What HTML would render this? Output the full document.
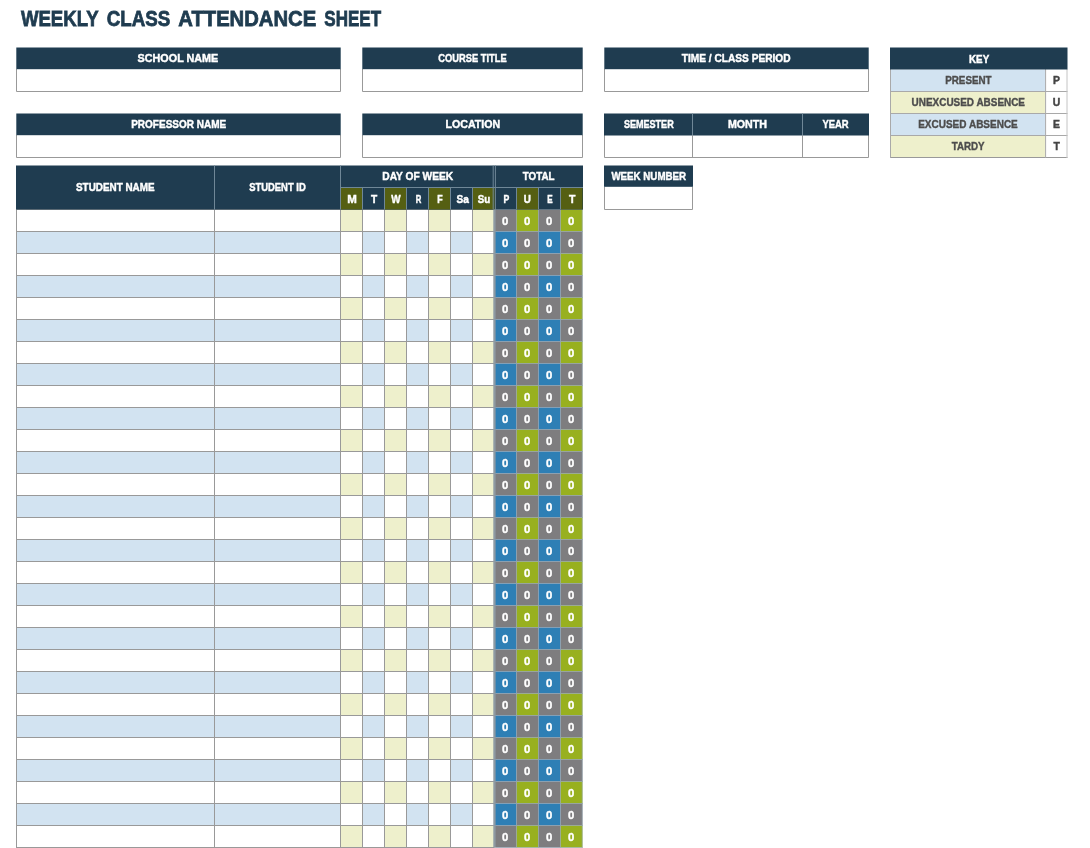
<!DOCTYPE html>
<html lang="en">
<head>
<meta charset="utf-8">
<title>Weekly Class Attendance Sheet</title>
<style>
html,body{margin:0;padding:0;background:#fff;}
body{width:1090px;height:848px;overflow:hidden;}
svg{display:block;}
text{font-family:"Liberation Sans",Arial,Helvetica,sans-serif;font-weight:bold;}
</style>
</head>
<body>
<svg width="1090" height="848" viewBox="0 0 1090 848" shape-rendering="auto">
<rect x="0" y="0" width="1090" height="848" fill="#ffffff"/>
<g id="title">
<text x="20.90" y="26.30" font-size="22" fill="#1f3c50" stroke="#1f3c50" stroke-width="0.8" textLength="77.80" lengthAdjust="spacingAndGlyphs">WEEKLY</text>
<text x="106.80" y="26.30" font-size="22" fill="#1f3c50" stroke="#1f3c50" stroke-width="0.8" textLength="63.50" lengthAdjust="spacingAndGlyphs">CLASS</text>
<text x="178.30" y="26.30" font-size="22" fill="#1f3c50" stroke="#1f3c50" stroke-width="0.8" textLength="137.89" lengthAdjust="spacingAndGlyphs">ATTENDANCE</text>
<text x="324.30" y="26.30" font-size="22" fill="#1f3c50" stroke="#1f3c50" stroke-width="0.8" textLength="56.80" lengthAdjust="spacingAndGlyphs">SHEET</text>
</g>
<g id="school-name">
<rect x="16.5" y="69" width="324.0" height="22.5" fill="#fff"/>
<path d="M16.5 69V91.5H340.5V69" fill="none" stroke="#999999" stroke-width="1"/>
<rect x="16.3" y="47.5" width="324.4" height="21.7" fill="#1f3c50"/>
<text x="137.60" y="62.40" font-size="11.5" fill="#fff" stroke="#fff" stroke-width="0.45" textLength="80.70" lengthAdjust="spacingAndGlyphs">SCHOOL NAME</text>
</g>
<g id="professor-name">
<rect x="16.5" y="135" width="324.0" height="22.5" fill="#fff"/>
<path d="M16.5 135V157.5H340.5V135" fill="none" stroke="#999999" stroke-width="1"/>
<rect x="16.3" y="113.5" width="324.4" height="21.7" fill="#1f3c50"/>
<text x="131.20" y="128.40" font-size="11.5" fill="#fff" stroke="#fff" stroke-width="0.45" textLength="95.00" lengthAdjust="spacingAndGlyphs">PROFESSOR NAME</text>
</g>
<g id="course-title">
<rect x="362.5" y="69" width="220.0" height="22.5" fill="#fff"/>
<path d="M362.5 69V91.5H582.5V69" fill="none" stroke="#999999" stroke-width="1"/>
<rect x="362.3" y="47.5" width="220.4" height="21.7" fill="#1f3c50"/>
<text x="438.30" y="62.40" font-size="11.5" fill="#fff" stroke="#fff" stroke-width="0.45" textLength="68.30" lengthAdjust="spacingAndGlyphs">COURSE TITLE</text>
</g>
<g id="location">
<rect x="362.5" y="135" width="220.0" height="22.5" fill="#fff"/>
<path d="M362.5 135V157.5H582.5V135" fill="none" stroke="#999999" stroke-width="1"/>
<rect x="362.3" y="113.5" width="220.4" height="21.7" fill="#1f3c50"/>
<text x="445.50" y="128.40" font-size="11.5" fill="#fff" stroke="#fff" stroke-width="0.45" textLength="54.70" lengthAdjust="spacingAndGlyphs">LOCATION</text>
</g>
<g id="time-class-period">
<rect x="604.5" y="69" width="264.0" height="22.5" fill="#fff"/>
<path d="M604.5 69V91.5H868.5V69" fill="none" stroke="#999999" stroke-width="1"/>
<rect x="604.3" y="47.5" width="264.4" height="21.7" fill="#1f3c50"/>
<text x="681.70" y="62.40" font-size="11.5" fill="#fff" stroke="#fff" stroke-width="0.45" textLength="108.90" lengthAdjust="spacingAndGlyphs">TIME / CLASS PERIOD</text>
</g>
<g id="semester-month-year">
<rect x="604.5" y="135" width="264.0" height="22.5" fill="#fff"/>
<path d="M604.5 135V157.5H868.5V135" fill="none" stroke="#999999" stroke-width="1"/>
<rect x="604" y="113.5" width="265" height="22.0" fill="#1f3c50"/>
<line x1="692.5" y1="113.5" x2="692.5" y2="135.5" stroke="#6f8797" stroke-width="1"/>
<line x1="692.5" y1="135.5" x2="692.5" y2="157.5" stroke="#999999" stroke-width="1"/>
<line x1="802.5" y1="113.5" x2="802.5" y2="135.5" stroke="#6f8797" stroke-width="1"/>
<line x1="802.5" y1="135.5" x2="802.5" y2="157.5" stroke="#999999" stroke-width="1"/>
<text x="623.90" y="128.40" font-size="11.5" fill="#fff" stroke="#fff" stroke-width="0.45" textLength="49.80" lengthAdjust="spacingAndGlyphs">SEMESTER</text>
<text x="727.90" y="128.40" font-size="11.5" fill="#fff" stroke="#fff" stroke-width="0.45" textLength="39.10" lengthAdjust="spacingAndGlyphs">MONTH</text>
<text x="822.40" y="128.40" font-size="11.5" fill="#fff" stroke="#fff" stroke-width="0.45" textLength="26.20" lengthAdjust="spacingAndGlyphs">YEAR</text>
</g>
<g id="week-number">
<rect x="604.5" y="187" width="88.0" height="22.5" fill="#fff"/>
<path d="M604.5 187V209.5H692.5V187" fill="none" stroke="#999999" stroke-width="1"/>
<rect x="604" y="165.5" width="89" height="21.3" fill="#1f3c50"/>
<text x="611.40" y="180.40" font-size="11.5" fill="#fff" stroke="#fff" stroke-width="0.45" textLength="74.70" lengthAdjust="spacingAndGlyphs">WEEK NUMBER</text>
</g>
<g id="key">
<rect x="890.5" y="69.5" width="155.1" height="22.0" fill="#d2e3f1"/>
<rect x="1045.6" y="69.5" width="21.4" height="22.0" fill="#fff"/>
<rect x="890.5" y="91.5" width="155.1" height="22.0" fill="#eef0cc"/>
<rect x="1045.6" y="91.5" width="21.4" height="22.0" fill="#fff"/>
<rect x="890.5" y="113.5" width="155.1" height="22.0" fill="#d2e3f1"/>
<rect x="1045.6" y="113.5" width="21.4" height="22.0" fill="#fff"/>
<rect x="890.5" y="135.5" width="155.1" height="22.0" fill="#eef0cc"/>
<rect x="1045.6" y="135.5" width="21.4" height="22.0" fill="#fff"/>
<line x1="890.0" y1="91.5" x2="1067.5" y2="91.5" stroke="#a9a9a9" stroke-width="1"/>
<line x1="890.0" y1="113.5" x2="1067.5" y2="113.5" stroke="#a9a9a9" stroke-width="1"/>
<line x1="890.0" y1="135.5" x2="1067.5" y2="135.5" stroke="#a9a9a9" stroke-width="1"/>
<line x1="890.0" y1="157.5" x2="1067.5" y2="157.5" stroke="#999999" stroke-width="1"/>
<line x1="890.5" y1="69" x2="890.5" y2="158" stroke="#a9a9a9" stroke-width="1"/>
<line x1="1045.6" y1="69" x2="1045.6" y2="158" stroke="#a9a9a9" stroke-width="1"/>
<line x1="1067.0" y1="69" x2="1067.0" y2="158" stroke="#c4c4c4" stroke-width="1"/>
<rect x="890.0" y="47.5" width="177.5" height="22.0" fill="#1f3c50"/>
<text x="969.00" y="62.60" font-size="11.5" fill="#fff" stroke="#fff" stroke-width="0.45" textLength="20.20" lengthAdjust="spacingAndGlyphs">KEY</text>
<text x="945.20" y="84.00" font-size="10" fill="#4d4d4d" stroke="#4d4d4d" stroke-width="0.35" textLength="46.40" lengthAdjust="spacingAndGlyphs">PRESENT</text>
<text x="1053.13" y="84.00" font-size="10" fill="#444" stroke="#444" stroke-width="0.4" textLength="6.94" lengthAdjust="spacingAndGlyphs">P</text>
<text x="911.60" y="106.00" font-size="10" fill="#4d4d4d" stroke="#4d4d4d" stroke-width="0.35" textLength="113.40" lengthAdjust="spacingAndGlyphs">UNEXCUSED ABSENCE</text>
<text x="1052.85" y="106.00" font-size="10" fill="#444" stroke="#444" stroke-width="0.4" textLength="7.51" lengthAdjust="spacingAndGlyphs">U</text>
<text x="918.20" y="128.00" font-size="10" fill="#4d4d4d" stroke="#4d4d4d" stroke-width="0.35" textLength="99.60" lengthAdjust="spacingAndGlyphs">EXCUSED ABSENCE</text>
<text x="1053.13" y="128.00" font-size="10" fill="#444" stroke="#444" stroke-width="0.4" textLength="6.94" lengthAdjust="spacingAndGlyphs">E</text>
<text x="951.70" y="150.00" font-size="10" fill="#4d4d4d" stroke="#4d4d4d" stroke-width="0.35" textLength="32.90" lengthAdjust="spacingAndGlyphs">TARDY</text>
<text x="1053.42" y="150.00" font-size="10" fill="#444" stroke="#444" stroke-width="0.4" textLength="6.35" lengthAdjust="spacingAndGlyphs">T</text>
</g>
<g id="attendance-table">
<rect x="16.5" y="209.5" width="324.0" height="22.0" fill="#fff"/>
<rect x="340.5" y="209.5" width="22.0" height="22.0" fill="#eef0cc"/>
<rect x="362.5" y="209.5" width="22.0" height="22.0" fill="#fff"/>
<rect x="384.5" y="209.5" width="22.0" height="22.0" fill="#eef0cc"/>
<rect x="406.5" y="209.5" width="22.0" height="22.0" fill="#fff"/>
<rect x="428.5" y="209.5" width="22.0" height="22.0" fill="#eef0cc"/>
<rect x="450.5" y="209.5" width="22.0" height="22.0" fill="#fff"/>
<rect x="472.5" y="209.5" width="22.0" height="22.0" fill="#eef0cc"/>
<rect x="494.5" y="209.5" width="22.0" height="22.0" fill="#7e7d7f"/>
<rect x="516.5" y="209.5" width="22.0" height="22.0" fill="#98b01f"/>
<rect x="538.5" y="209.5" width="22.0" height="22.0" fill="#7e7d7f"/>
<rect x="560.5" y="209.5" width="22.0" height="22.0" fill="#98b01f"/>
<rect x="16.5" y="231.5" width="324.0" height="22.0" fill="#d2e3f1"/>
<rect x="340.5" y="231.5" width="22.0" height="22.0" fill="#fff"/>
<rect x="362.5" y="231.5" width="22.0" height="22.0" fill="#d2e3f1"/>
<rect x="384.5" y="231.5" width="22.0" height="22.0" fill="#fff"/>
<rect x="406.5" y="231.5" width="22.0" height="22.0" fill="#d2e3f1"/>
<rect x="428.5" y="231.5" width="22.0" height="22.0" fill="#fff"/>
<rect x="450.5" y="231.5" width="22.0" height="22.0" fill="#d2e3f1"/>
<rect x="472.5" y="231.5" width="22.0" height="22.0" fill="#fff"/>
<rect x="494.5" y="231.5" width="22.0" height="22.0" fill="#2e7fb5"/>
<rect x="516.5" y="231.5" width="22.0" height="22.0" fill="#7e7d7f"/>
<rect x="538.5" y="231.5" width="22.0" height="22.0" fill="#2e7fb5"/>
<rect x="560.5" y="231.5" width="22.0" height="22.0" fill="#7e7d7f"/>
<rect x="16.5" y="253.5" width="324.0" height="22.0" fill="#fff"/>
<rect x="340.5" y="253.5" width="22.0" height="22.0" fill="#eef0cc"/>
<rect x="362.5" y="253.5" width="22.0" height="22.0" fill="#fff"/>
<rect x="384.5" y="253.5" width="22.0" height="22.0" fill="#eef0cc"/>
<rect x="406.5" y="253.5" width="22.0" height="22.0" fill="#fff"/>
<rect x="428.5" y="253.5" width="22.0" height="22.0" fill="#eef0cc"/>
<rect x="450.5" y="253.5" width="22.0" height="22.0" fill="#fff"/>
<rect x="472.5" y="253.5" width="22.0" height="22.0" fill="#eef0cc"/>
<rect x="494.5" y="253.5" width="22.0" height="22.0" fill="#7e7d7f"/>
<rect x="516.5" y="253.5" width="22.0" height="22.0" fill="#98b01f"/>
<rect x="538.5" y="253.5" width="22.0" height="22.0" fill="#7e7d7f"/>
<rect x="560.5" y="253.5" width="22.0" height="22.0" fill="#98b01f"/>
<rect x="16.5" y="275.5" width="324.0" height="22.0" fill="#d2e3f1"/>
<rect x="340.5" y="275.5" width="22.0" height="22.0" fill="#fff"/>
<rect x="362.5" y="275.5" width="22.0" height="22.0" fill="#d2e3f1"/>
<rect x="384.5" y="275.5" width="22.0" height="22.0" fill="#fff"/>
<rect x="406.5" y="275.5" width="22.0" height="22.0" fill="#d2e3f1"/>
<rect x="428.5" y="275.5" width="22.0" height="22.0" fill="#fff"/>
<rect x="450.5" y="275.5" width="22.0" height="22.0" fill="#d2e3f1"/>
<rect x="472.5" y="275.5" width="22.0" height="22.0" fill="#fff"/>
<rect x="494.5" y="275.5" width="22.0" height="22.0" fill="#2e7fb5"/>
<rect x="516.5" y="275.5" width="22.0" height="22.0" fill="#7e7d7f"/>
<rect x="538.5" y="275.5" width="22.0" height="22.0" fill="#2e7fb5"/>
<rect x="560.5" y="275.5" width="22.0" height="22.0" fill="#7e7d7f"/>
<rect x="16.5" y="297.5" width="324.0" height="22.0" fill="#fff"/>
<rect x="340.5" y="297.5" width="22.0" height="22.0" fill="#eef0cc"/>
<rect x="362.5" y="297.5" width="22.0" height="22.0" fill="#fff"/>
<rect x="384.5" y="297.5" width="22.0" height="22.0" fill="#eef0cc"/>
<rect x="406.5" y="297.5" width="22.0" height="22.0" fill="#fff"/>
<rect x="428.5" y="297.5" width="22.0" height="22.0" fill="#eef0cc"/>
<rect x="450.5" y="297.5" width="22.0" height="22.0" fill="#fff"/>
<rect x="472.5" y="297.5" width="22.0" height="22.0" fill="#eef0cc"/>
<rect x="494.5" y="297.5" width="22.0" height="22.0" fill="#7e7d7f"/>
<rect x="516.5" y="297.5" width="22.0" height="22.0" fill="#98b01f"/>
<rect x="538.5" y="297.5" width="22.0" height="22.0" fill="#7e7d7f"/>
<rect x="560.5" y="297.5" width="22.0" height="22.0" fill="#98b01f"/>
<rect x="16.5" y="319.5" width="324.0" height="22.0" fill="#d2e3f1"/>
<rect x="340.5" y="319.5" width="22.0" height="22.0" fill="#fff"/>
<rect x="362.5" y="319.5" width="22.0" height="22.0" fill="#d2e3f1"/>
<rect x="384.5" y="319.5" width="22.0" height="22.0" fill="#fff"/>
<rect x="406.5" y="319.5" width="22.0" height="22.0" fill="#d2e3f1"/>
<rect x="428.5" y="319.5" width="22.0" height="22.0" fill="#fff"/>
<rect x="450.5" y="319.5" width="22.0" height="22.0" fill="#d2e3f1"/>
<rect x="472.5" y="319.5" width="22.0" height="22.0" fill="#fff"/>
<rect x="494.5" y="319.5" width="22.0" height="22.0" fill="#2e7fb5"/>
<rect x="516.5" y="319.5" width="22.0" height="22.0" fill="#7e7d7f"/>
<rect x="538.5" y="319.5" width="22.0" height="22.0" fill="#2e7fb5"/>
<rect x="560.5" y="319.5" width="22.0" height="22.0" fill="#7e7d7f"/>
<rect x="16.5" y="341.5" width="324.0" height="22.0" fill="#fff"/>
<rect x="340.5" y="341.5" width="22.0" height="22.0" fill="#eef0cc"/>
<rect x="362.5" y="341.5" width="22.0" height="22.0" fill="#fff"/>
<rect x="384.5" y="341.5" width="22.0" height="22.0" fill="#eef0cc"/>
<rect x="406.5" y="341.5" width="22.0" height="22.0" fill="#fff"/>
<rect x="428.5" y="341.5" width="22.0" height="22.0" fill="#eef0cc"/>
<rect x="450.5" y="341.5" width="22.0" height="22.0" fill="#fff"/>
<rect x="472.5" y="341.5" width="22.0" height="22.0" fill="#eef0cc"/>
<rect x="494.5" y="341.5" width="22.0" height="22.0" fill="#7e7d7f"/>
<rect x="516.5" y="341.5" width="22.0" height="22.0" fill="#98b01f"/>
<rect x="538.5" y="341.5" width="22.0" height="22.0" fill="#7e7d7f"/>
<rect x="560.5" y="341.5" width="22.0" height="22.0" fill="#98b01f"/>
<rect x="16.5" y="363.5" width="324.0" height="22.0" fill="#d2e3f1"/>
<rect x="340.5" y="363.5" width="22.0" height="22.0" fill="#fff"/>
<rect x="362.5" y="363.5" width="22.0" height="22.0" fill="#d2e3f1"/>
<rect x="384.5" y="363.5" width="22.0" height="22.0" fill="#fff"/>
<rect x="406.5" y="363.5" width="22.0" height="22.0" fill="#d2e3f1"/>
<rect x="428.5" y="363.5" width="22.0" height="22.0" fill="#fff"/>
<rect x="450.5" y="363.5" width="22.0" height="22.0" fill="#d2e3f1"/>
<rect x="472.5" y="363.5" width="22.0" height="22.0" fill="#fff"/>
<rect x="494.5" y="363.5" width="22.0" height="22.0" fill="#2e7fb5"/>
<rect x="516.5" y="363.5" width="22.0" height="22.0" fill="#7e7d7f"/>
<rect x="538.5" y="363.5" width="22.0" height="22.0" fill="#2e7fb5"/>
<rect x="560.5" y="363.5" width="22.0" height="22.0" fill="#7e7d7f"/>
<rect x="16.5" y="385.5" width="324.0" height="22.0" fill="#fff"/>
<rect x="340.5" y="385.5" width="22.0" height="22.0" fill="#eef0cc"/>
<rect x="362.5" y="385.5" width="22.0" height="22.0" fill="#fff"/>
<rect x="384.5" y="385.5" width="22.0" height="22.0" fill="#eef0cc"/>
<rect x="406.5" y="385.5" width="22.0" height="22.0" fill="#fff"/>
<rect x="428.5" y="385.5" width="22.0" height="22.0" fill="#eef0cc"/>
<rect x="450.5" y="385.5" width="22.0" height="22.0" fill="#fff"/>
<rect x="472.5" y="385.5" width="22.0" height="22.0" fill="#eef0cc"/>
<rect x="494.5" y="385.5" width="22.0" height="22.0" fill="#7e7d7f"/>
<rect x="516.5" y="385.5" width="22.0" height="22.0" fill="#98b01f"/>
<rect x="538.5" y="385.5" width="22.0" height="22.0" fill="#7e7d7f"/>
<rect x="560.5" y="385.5" width="22.0" height="22.0" fill="#98b01f"/>
<rect x="16.5" y="407.5" width="324.0" height="22.0" fill="#d2e3f1"/>
<rect x="340.5" y="407.5" width="22.0" height="22.0" fill="#fff"/>
<rect x="362.5" y="407.5" width="22.0" height="22.0" fill="#d2e3f1"/>
<rect x="384.5" y="407.5" width="22.0" height="22.0" fill="#fff"/>
<rect x="406.5" y="407.5" width="22.0" height="22.0" fill="#d2e3f1"/>
<rect x="428.5" y="407.5" width="22.0" height="22.0" fill="#fff"/>
<rect x="450.5" y="407.5" width="22.0" height="22.0" fill="#d2e3f1"/>
<rect x="472.5" y="407.5" width="22.0" height="22.0" fill="#fff"/>
<rect x="494.5" y="407.5" width="22.0" height="22.0" fill="#2e7fb5"/>
<rect x="516.5" y="407.5" width="22.0" height="22.0" fill="#7e7d7f"/>
<rect x="538.5" y="407.5" width="22.0" height="22.0" fill="#2e7fb5"/>
<rect x="560.5" y="407.5" width="22.0" height="22.0" fill="#7e7d7f"/>
<rect x="16.5" y="429.5" width="324.0" height="22.0" fill="#fff"/>
<rect x="340.5" y="429.5" width="22.0" height="22.0" fill="#eef0cc"/>
<rect x="362.5" y="429.5" width="22.0" height="22.0" fill="#fff"/>
<rect x="384.5" y="429.5" width="22.0" height="22.0" fill="#eef0cc"/>
<rect x="406.5" y="429.5" width="22.0" height="22.0" fill="#fff"/>
<rect x="428.5" y="429.5" width="22.0" height="22.0" fill="#eef0cc"/>
<rect x="450.5" y="429.5" width="22.0" height="22.0" fill="#fff"/>
<rect x="472.5" y="429.5" width="22.0" height="22.0" fill="#eef0cc"/>
<rect x="494.5" y="429.5" width="22.0" height="22.0" fill="#7e7d7f"/>
<rect x="516.5" y="429.5" width="22.0" height="22.0" fill="#98b01f"/>
<rect x="538.5" y="429.5" width="22.0" height="22.0" fill="#7e7d7f"/>
<rect x="560.5" y="429.5" width="22.0" height="22.0" fill="#98b01f"/>
<rect x="16.5" y="451.5" width="324.0" height="22.0" fill="#d2e3f1"/>
<rect x="340.5" y="451.5" width="22.0" height="22.0" fill="#fff"/>
<rect x="362.5" y="451.5" width="22.0" height="22.0" fill="#d2e3f1"/>
<rect x="384.5" y="451.5" width="22.0" height="22.0" fill="#fff"/>
<rect x="406.5" y="451.5" width="22.0" height="22.0" fill="#d2e3f1"/>
<rect x="428.5" y="451.5" width="22.0" height="22.0" fill="#fff"/>
<rect x="450.5" y="451.5" width="22.0" height="22.0" fill="#d2e3f1"/>
<rect x="472.5" y="451.5" width="22.0" height="22.0" fill="#fff"/>
<rect x="494.5" y="451.5" width="22.0" height="22.0" fill="#2e7fb5"/>
<rect x="516.5" y="451.5" width="22.0" height="22.0" fill="#7e7d7f"/>
<rect x="538.5" y="451.5" width="22.0" height="22.0" fill="#2e7fb5"/>
<rect x="560.5" y="451.5" width="22.0" height="22.0" fill="#7e7d7f"/>
<rect x="16.5" y="473.5" width="324.0" height="22.0" fill="#fff"/>
<rect x="340.5" y="473.5" width="22.0" height="22.0" fill="#eef0cc"/>
<rect x="362.5" y="473.5" width="22.0" height="22.0" fill="#fff"/>
<rect x="384.5" y="473.5" width="22.0" height="22.0" fill="#eef0cc"/>
<rect x="406.5" y="473.5" width="22.0" height="22.0" fill="#fff"/>
<rect x="428.5" y="473.5" width="22.0" height="22.0" fill="#eef0cc"/>
<rect x="450.5" y="473.5" width="22.0" height="22.0" fill="#fff"/>
<rect x="472.5" y="473.5" width="22.0" height="22.0" fill="#eef0cc"/>
<rect x="494.5" y="473.5" width="22.0" height="22.0" fill="#7e7d7f"/>
<rect x="516.5" y="473.5" width="22.0" height="22.0" fill="#98b01f"/>
<rect x="538.5" y="473.5" width="22.0" height="22.0" fill="#7e7d7f"/>
<rect x="560.5" y="473.5" width="22.0" height="22.0" fill="#98b01f"/>
<rect x="16.5" y="495.5" width="324.0" height="22.0" fill="#d2e3f1"/>
<rect x="340.5" y="495.5" width="22.0" height="22.0" fill="#fff"/>
<rect x="362.5" y="495.5" width="22.0" height="22.0" fill="#d2e3f1"/>
<rect x="384.5" y="495.5" width="22.0" height="22.0" fill="#fff"/>
<rect x="406.5" y="495.5" width="22.0" height="22.0" fill="#d2e3f1"/>
<rect x="428.5" y="495.5" width="22.0" height="22.0" fill="#fff"/>
<rect x="450.5" y="495.5" width="22.0" height="22.0" fill="#d2e3f1"/>
<rect x="472.5" y="495.5" width="22.0" height="22.0" fill="#fff"/>
<rect x="494.5" y="495.5" width="22.0" height="22.0" fill="#2e7fb5"/>
<rect x="516.5" y="495.5" width="22.0" height="22.0" fill="#7e7d7f"/>
<rect x="538.5" y="495.5" width="22.0" height="22.0" fill="#2e7fb5"/>
<rect x="560.5" y="495.5" width="22.0" height="22.0" fill="#7e7d7f"/>
<rect x="16.5" y="517.5" width="324.0" height="22.0" fill="#fff"/>
<rect x="340.5" y="517.5" width="22.0" height="22.0" fill="#eef0cc"/>
<rect x="362.5" y="517.5" width="22.0" height="22.0" fill="#fff"/>
<rect x="384.5" y="517.5" width="22.0" height="22.0" fill="#eef0cc"/>
<rect x="406.5" y="517.5" width="22.0" height="22.0" fill="#fff"/>
<rect x="428.5" y="517.5" width="22.0" height="22.0" fill="#eef0cc"/>
<rect x="450.5" y="517.5" width="22.0" height="22.0" fill="#fff"/>
<rect x="472.5" y="517.5" width="22.0" height="22.0" fill="#eef0cc"/>
<rect x="494.5" y="517.5" width="22.0" height="22.0" fill="#7e7d7f"/>
<rect x="516.5" y="517.5" width="22.0" height="22.0" fill="#98b01f"/>
<rect x="538.5" y="517.5" width="22.0" height="22.0" fill="#7e7d7f"/>
<rect x="560.5" y="517.5" width="22.0" height="22.0" fill="#98b01f"/>
<rect x="16.5" y="539.5" width="324.0" height="22.0" fill="#d2e3f1"/>
<rect x="340.5" y="539.5" width="22.0" height="22.0" fill="#fff"/>
<rect x="362.5" y="539.5" width="22.0" height="22.0" fill="#d2e3f1"/>
<rect x="384.5" y="539.5" width="22.0" height="22.0" fill="#fff"/>
<rect x="406.5" y="539.5" width="22.0" height="22.0" fill="#d2e3f1"/>
<rect x="428.5" y="539.5" width="22.0" height="22.0" fill="#fff"/>
<rect x="450.5" y="539.5" width="22.0" height="22.0" fill="#d2e3f1"/>
<rect x="472.5" y="539.5" width="22.0" height="22.0" fill="#fff"/>
<rect x="494.5" y="539.5" width="22.0" height="22.0" fill="#2e7fb5"/>
<rect x="516.5" y="539.5" width="22.0" height="22.0" fill="#7e7d7f"/>
<rect x="538.5" y="539.5" width="22.0" height="22.0" fill="#2e7fb5"/>
<rect x="560.5" y="539.5" width="22.0" height="22.0" fill="#7e7d7f"/>
<rect x="16.5" y="561.5" width="324.0" height="22.0" fill="#fff"/>
<rect x="340.5" y="561.5" width="22.0" height="22.0" fill="#eef0cc"/>
<rect x="362.5" y="561.5" width="22.0" height="22.0" fill="#fff"/>
<rect x="384.5" y="561.5" width="22.0" height="22.0" fill="#eef0cc"/>
<rect x="406.5" y="561.5" width="22.0" height="22.0" fill="#fff"/>
<rect x="428.5" y="561.5" width="22.0" height="22.0" fill="#eef0cc"/>
<rect x="450.5" y="561.5" width="22.0" height="22.0" fill="#fff"/>
<rect x="472.5" y="561.5" width="22.0" height="22.0" fill="#eef0cc"/>
<rect x="494.5" y="561.5" width="22.0" height="22.0" fill="#7e7d7f"/>
<rect x="516.5" y="561.5" width="22.0" height="22.0" fill="#98b01f"/>
<rect x="538.5" y="561.5" width="22.0" height="22.0" fill="#7e7d7f"/>
<rect x="560.5" y="561.5" width="22.0" height="22.0" fill="#98b01f"/>
<rect x="16.5" y="583.5" width="324.0" height="22.0" fill="#d2e3f1"/>
<rect x="340.5" y="583.5" width="22.0" height="22.0" fill="#fff"/>
<rect x="362.5" y="583.5" width="22.0" height="22.0" fill="#d2e3f1"/>
<rect x="384.5" y="583.5" width="22.0" height="22.0" fill="#fff"/>
<rect x="406.5" y="583.5" width="22.0" height="22.0" fill="#d2e3f1"/>
<rect x="428.5" y="583.5" width="22.0" height="22.0" fill="#fff"/>
<rect x="450.5" y="583.5" width="22.0" height="22.0" fill="#d2e3f1"/>
<rect x="472.5" y="583.5" width="22.0" height="22.0" fill="#fff"/>
<rect x="494.5" y="583.5" width="22.0" height="22.0" fill="#2e7fb5"/>
<rect x="516.5" y="583.5" width="22.0" height="22.0" fill="#7e7d7f"/>
<rect x="538.5" y="583.5" width="22.0" height="22.0" fill="#2e7fb5"/>
<rect x="560.5" y="583.5" width="22.0" height="22.0" fill="#7e7d7f"/>
<rect x="16.5" y="605.5" width="324.0" height="22.0" fill="#fff"/>
<rect x="340.5" y="605.5" width="22.0" height="22.0" fill="#eef0cc"/>
<rect x="362.5" y="605.5" width="22.0" height="22.0" fill="#fff"/>
<rect x="384.5" y="605.5" width="22.0" height="22.0" fill="#eef0cc"/>
<rect x="406.5" y="605.5" width="22.0" height="22.0" fill="#fff"/>
<rect x="428.5" y="605.5" width="22.0" height="22.0" fill="#eef0cc"/>
<rect x="450.5" y="605.5" width="22.0" height="22.0" fill="#fff"/>
<rect x="472.5" y="605.5" width="22.0" height="22.0" fill="#eef0cc"/>
<rect x="494.5" y="605.5" width="22.0" height="22.0" fill="#7e7d7f"/>
<rect x="516.5" y="605.5" width="22.0" height="22.0" fill="#98b01f"/>
<rect x="538.5" y="605.5" width="22.0" height="22.0" fill="#7e7d7f"/>
<rect x="560.5" y="605.5" width="22.0" height="22.0" fill="#98b01f"/>
<rect x="16.5" y="627.5" width="324.0" height="22.0" fill="#d2e3f1"/>
<rect x="340.5" y="627.5" width="22.0" height="22.0" fill="#fff"/>
<rect x="362.5" y="627.5" width="22.0" height="22.0" fill="#d2e3f1"/>
<rect x="384.5" y="627.5" width="22.0" height="22.0" fill="#fff"/>
<rect x="406.5" y="627.5" width="22.0" height="22.0" fill="#d2e3f1"/>
<rect x="428.5" y="627.5" width="22.0" height="22.0" fill="#fff"/>
<rect x="450.5" y="627.5" width="22.0" height="22.0" fill="#d2e3f1"/>
<rect x="472.5" y="627.5" width="22.0" height="22.0" fill="#fff"/>
<rect x="494.5" y="627.5" width="22.0" height="22.0" fill="#2e7fb5"/>
<rect x="516.5" y="627.5" width="22.0" height="22.0" fill="#7e7d7f"/>
<rect x="538.5" y="627.5" width="22.0" height="22.0" fill="#2e7fb5"/>
<rect x="560.5" y="627.5" width="22.0" height="22.0" fill="#7e7d7f"/>
<rect x="16.5" y="649.5" width="324.0" height="22.0" fill="#fff"/>
<rect x="340.5" y="649.5" width="22.0" height="22.0" fill="#eef0cc"/>
<rect x="362.5" y="649.5" width="22.0" height="22.0" fill="#fff"/>
<rect x="384.5" y="649.5" width="22.0" height="22.0" fill="#eef0cc"/>
<rect x="406.5" y="649.5" width="22.0" height="22.0" fill="#fff"/>
<rect x="428.5" y="649.5" width="22.0" height="22.0" fill="#eef0cc"/>
<rect x="450.5" y="649.5" width="22.0" height="22.0" fill="#fff"/>
<rect x="472.5" y="649.5" width="22.0" height="22.0" fill="#eef0cc"/>
<rect x="494.5" y="649.5" width="22.0" height="22.0" fill="#7e7d7f"/>
<rect x="516.5" y="649.5" width="22.0" height="22.0" fill="#98b01f"/>
<rect x="538.5" y="649.5" width="22.0" height="22.0" fill="#7e7d7f"/>
<rect x="560.5" y="649.5" width="22.0" height="22.0" fill="#98b01f"/>
<rect x="16.5" y="671.5" width="324.0" height="22.0" fill="#d2e3f1"/>
<rect x="340.5" y="671.5" width="22.0" height="22.0" fill="#fff"/>
<rect x="362.5" y="671.5" width="22.0" height="22.0" fill="#d2e3f1"/>
<rect x="384.5" y="671.5" width="22.0" height="22.0" fill="#fff"/>
<rect x="406.5" y="671.5" width="22.0" height="22.0" fill="#d2e3f1"/>
<rect x="428.5" y="671.5" width="22.0" height="22.0" fill="#fff"/>
<rect x="450.5" y="671.5" width="22.0" height="22.0" fill="#d2e3f1"/>
<rect x="472.5" y="671.5" width="22.0" height="22.0" fill="#fff"/>
<rect x="494.5" y="671.5" width="22.0" height="22.0" fill="#2e7fb5"/>
<rect x="516.5" y="671.5" width="22.0" height="22.0" fill="#7e7d7f"/>
<rect x="538.5" y="671.5" width="22.0" height="22.0" fill="#2e7fb5"/>
<rect x="560.5" y="671.5" width="22.0" height="22.0" fill="#7e7d7f"/>
<rect x="16.5" y="693.5" width="324.0" height="22.0" fill="#fff"/>
<rect x="340.5" y="693.5" width="22.0" height="22.0" fill="#eef0cc"/>
<rect x="362.5" y="693.5" width="22.0" height="22.0" fill="#fff"/>
<rect x="384.5" y="693.5" width="22.0" height="22.0" fill="#eef0cc"/>
<rect x="406.5" y="693.5" width="22.0" height="22.0" fill="#fff"/>
<rect x="428.5" y="693.5" width="22.0" height="22.0" fill="#eef0cc"/>
<rect x="450.5" y="693.5" width="22.0" height="22.0" fill="#fff"/>
<rect x="472.5" y="693.5" width="22.0" height="22.0" fill="#eef0cc"/>
<rect x="494.5" y="693.5" width="22.0" height="22.0" fill="#7e7d7f"/>
<rect x="516.5" y="693.5" width="22.0" height="22.0" fill="#98b01f"/>
<rect x="538.5" y="693.5" width="22.0" height="22.0" fill="#7e7d7f"/>
<rect x="560.5" y="693.5" width="22.0" height="22.0" fill="#98b01f"/>
<rect x="16.5" y="715.5" width="324.0" height="22.0" fill="#d2e3f1"/>
<rect x="340.5" y="715.5" width="22.0" height="22.0" fill="#fff"/>
<rect x="362.5" y="715.5" width="22.0" height="22.0" fill="#d2e3f1"/>
<rect x="384.5" y="715.5" width="22.0" height="22.0" fill="#fff"/>
<rect x="406.5" y="715.5" width="22.0" height="22.0" fill="#d2e3f1"/>
<rect x="428.5" y="715.5" width="22.0" height="22.0" fill="#fff"/>
<rect x="450.5" y="715.5" width="22.0" height="22.0" fill="#d2e3f1"/>
<rect x="472.5" y="715.5" width="22.0" height="22.0" fill="#fff"/>
<rect x="494.5" y="715.5" width="22.0" height="22.0" fill="#2e7fb5"/>
<rect x="516.5" y="715.5" width="22.0" height="22.0" fill="#7e7d7f"/>
<rect x="538.5" y="715.5" width="22.0" height="22.0" fill="#2e7fb5"/>
<rect x="560.5" y="715.5" width="22.0" height="22.0" fill="#7e7d7f"/>
<rect x="16.5" y="737.5" width="324.0" height="22.0" fill="#fff"/>
<rect x="340.5" y="737.5" width="22.0" height="22.0" fill="#eef0cc"/>
<rect x="362.5" y="737.5" width="22.0" height="22.0" fill="#fff"/>
<rect x="384.5" y="737.5" width="22.0" height="22.0" fill="#eef0cc"/>
<rect x="406.5" y="737.5" width="22.0" height="22.0" fill="#fff"/>
<rect x="428.5" y="737.5" width="22.0" height="22.0" fill="#eef0cc"/>
<rect x="450.5" y="737.5" width="22.0" height="22.0" fill="#fff"/>
<rect x="472.5" y="737.5" width="22.0" height="22.0" fill="#eef0cc"/>
<rect x="494.5" y="737.5" width="22.0" height="22.0" fill="#7e7d7f"/>
<rect x="516.5" y="737.5" width="22.0" height="22.0" fill="#98b01f"/>
<rect x="538.5" y="737.5" width="22.0" height="22.0" fill="#7e7d7f"/>
<rect x="560.5" y="737.5" width="22.0" height="22.0" fill="#98b01f"/>
<rect x="16.5" y="759.5" width="324.0" height="22.0" fill="#d2e3f1"/>
<rect x="340.5" y="759.5" width="22.0" height="22.0" fill="#fff"/>
<rect x="362.5" y="759.5" width="22.0" height="22.0" fill="#d2e3f1"/>
<rect x="384.5" y="759.5" width="22.0" height="22.0" fill="#fff"/>
<rect x="406.5" y="759.5" width="22.0" height="22.0" fill="#d2e3f1"/>
<rect x="428.5" y="759.5" width="22.0" height="22.0" fill="#fff"/>
<rect x="450.5" y="759.5" width="22.0" height="22.0" fill="#d2e3f1"/>
<rect x="472.5" y="759.5" width="22.0" height="22.0" fill="#fff"/>
<rect x="494.5" y="759.5" width="22.0" height="22.0" fill="#2e7fb5"/>
<rect x="516.5" y="759.5" width="22.0" height="22.0" fill="#7e7d7f"/>
<rect x="538.5" y="759.5" width="22.0" height="22.0" fill="#2e7fb5"/>
<rect x="560.5" y="759.5" width="22.0" height="22.0" fill="#7e7d7f"/>
<rect x="16.5" y="781.5" width="324.0" height="22.0" fill="#fff"/>
<rect x="340.5" y="781.5" width="22.0" height="22.0" fill="#eef0cc"/>
<rect x="362.5" y="781.5" width="22.0" height="22.0" fill="#fff"/>
<rect x="384.5" y="781.5" width="22.0" height="22.0" fill="#eef0cc"/>
<rect x="406.5" y="781.5" width="22.0" height="22.0" fill="#fff"/>
<rect x="428.5" y="781.5" width="22.0" height="22.0" fill="#eef0cc"/>
<rect x="450.5" y="781.5" width="22.0" height="22.0" fill="#fff"/>
<rect x="472.5" y="781.5" width="22.0" height="22.0" fill="#eef0cc"/>
<rect x="494.5" y="781.5" width="22.0" height="22.0" fill="#7e7d7f"/>
<rect x="516.5" y="781.5" width="22.0" height="22.0" fill="#98b01f"/>
<rect x="538.5" y="781.5" width="22.0" height="22.0" fill="#7e7d7f"/>
<rect x="560.5" y="781.5" width="22.0" height="22.0" fill="#98b01f"/>
<rect x="16.5" y="803.5" width="324.0" height="22.0" fill="#d2e3f1"/>
<rect x="340.5" y="803.5" width="22.0" height="22.0" fill="#fff"/>
<rect x="362.5" y="803.5" width="22.0" height="22.0" fill="#d2e3f1"/>
<rect x="384.5" y="803.5" width="22.0" height="22.0" fill="#fff"/>
<rect x="406.5" y="803.5" width="22.0" height="22.0" fill="#d2e3f1"/>
<rect x="428.5" y="803.5" width="22.0" height="22.0" fill="#fff"/>
<rect x="450.5" y="803.5" width="22.0" height="22.0" fill="#d2e3f1"/>
<rect x="472.5" y="803.5" width="22.0" height="22.0" fill="#fff"/>
<rect x="494.5" y="803.5" width="22.0" height="22.0" fill="#2e7fb5"/>
<rect x="516.5" y="803.5" width="22.0" height="22.0" fill="#7e7d7f"/>
<rect x="538.5" y="803.5" width="22.0" height="22.0" fill="#2e7fb5"/>
<rect x="560.5" y="803.5" width="22.0" height="22.0" fill="#7e7d7f"/>
<rect x="16.5" y="825.5" width="324.0" height="22.0" fill="#fff"/>
<rect x="340.5" y="825.5" width="22.0" height="22.0" fill="#eef0cc"/>
<rect x="362.5" y="825.5" width="22.0" height="22.0" fill="#fff"/>
<rect x="384.5" y="825.5" width="22.0" height="22.0" fill="#eef0cc"/>
<rect x="406.5" y="825.5" width="22.0" height="22.0" fill="#fff"/>
<rect x="428.5" y="825.5" width="22.0" height="22.0" fill="#eef0cc"/>
<rect x="450.5" y="825.5" width="22.0" height="22.0" fill="#fff"/>
<rect x="472.5" y="825.5" width="22.0" height="22.0" fill="#eef0cc"/>
<rect x="494.5" y="825.5" width="22.0" height="22.0" fill="#7e7d7f"/>
<rect x="516.5" y="825.5" width="22.0" height="22.0" fill="#98b01f"/>
<rect x="538.5" y="825.5" width="22.0" height="22.0" fill="#7e7d7f"/>
<rect x="560.5" y="825.5" width="22.0" height="22.0" fill="#98b01f"/>
<line x1="16" y1="209.5" x2="494" y2="209.5" stroke="#999999" stroke-width="1"/>
<line x1="496" y1="209.5" x2="583" y2="209.5" stroke="#8ea3b5" stroke-width="1" stroke-opacity="0.55"/>
<line x1="16" y1="231.5" x2="494" y2="231.5" stroke="#999999" stroke-width="1"/>
<line x1="496" y1="231.5" x2="583" y2="231.5" stroke="#8ea3b5" stroke-width="1" stroke-opacity="0.55"/>
<line x1="16" y1="253.5" x2="494" y2="253.5" stroke="#999999" stroke-width="1"/>
<line x1="496" y1="253.5" x2="583" y2="253.5" stroke="#8ea3b5" stroke-width="1" stroke-opacity="0.55"/>
<line x1="16" y1="275.5" x2="494" y2="275.5" stroke="#999999" stroke-width="1"/>
<line x1="496" y1="275.5" x2="583" y2="275.5" stroke="#8ea3b5" stroke-width="1" stroke-opacity="0.55"/>
<line x1="16" y1="297.5" x2="494" y2="297.5" stroke="#999999" stroke-width="1"/>
<line x1="496" y1="297.5" x2="583" y2="297.5" stroke="#8ea3b5" stroke-width="1" stroke-opacity="0.55"/>
<line x1="16" y1="319.5" x2="494" y2="319.5" stroke="#999999" stroke-width="1"/>
<line x1="496" y1="319.5" x2="583" y2="319.5" stroke="#8ea3b5" stroke-width="1" stroke-opacity="0.55"/>
<line x1="16" y1="341.5" x2="494" y2="341.5" stroke="#999999" stroke-width="1"/>
<line x1="496" y1="341.5" x2="583" y2="341.5" stroke="#8ea3b5" stroke-width="1" stroke-opacity="0.55"/>
<line x1="16" y1="363.5" x2="494" y2="363.5" stroke="#999999" stroke-width="1"/>
<line x1="496" y1="363.5" x2="583" y2="363.5" stroke="#8ea3b5" stroke-width="1" stroke-opacity="0.55"/>
<line x1="16" y1="385.5" x2="494" y2="385.5" stroke="#999999" stroke-width="1"/>
<line x1="496" y1="385.5" x2="583" y2="385.5" stroke="#8ea3b5" stroke-width="1" stroke-opacity="0.55"/>
<line x1="16" y1="407.5" x2="494" y2="407.5" stroke="#999999" stroke-width="1"/>
<line x1="496" y1="407.5" x2="583" y2="407.5" stroke="#8ea3b5" stroke-width="1" stroke-opacity="0.55"/>
<line x1="16" y1="429.5" x2="494" y2="429.5" stroke="#999999" stroke-width="1"/>
<line x1="496" y1="429.5" x2="583" y2="429.5" stroke="#8ea3b5" stroke-width="1" stroke-opacity="0.55"/>
<line x1="16" y1="451.5" x2="494" y2="451.5" stroke="#999999" stroke-width="1"/>
<line x1="496" y1="451.5" x2="583" y2="451.5" stroke="#8ea3b5" stroke-width="1" stroke-opacity="0.55"/>
<line x1="16" y1="473.5" x2="494" y2="473.5" stroke="#999999" stroke-width="1"/>
<line x1="496" y1="473.5" x2="583" y2="473.5" stroke="#8ea3b5" stroke-width="1" stroke-opacity="0.55"/>
<line x1="16" y1="495.5" x2="494" y2="495.5" stroke="#999999" stroke-width="1"/>
<line x1="496" y1="495.5" x2="583" y2="495.5" stroke="#8ea3b5" stroke-width="1" stroke-opacity="0.55"/>
<line x1="16" y1="517.5" x2="494" y2="517.5" stroke="#999999" stroke-width="1"/>
<line x1="496" y1="517.5" x2="583" y2="517.5" stroke="#8ea3b5" stroke-width="1" stroke-opacity="0.55"/>
<line x1="16" y1="539.5" x2="494" y2="539.5" stroke="#999999" stroke-width="1"/>
<line x1="496" y1="539.5" x2="583" y2="539.5" stroke="#8ea3b5" stroke-width="1" stroke-opacity="0.55"/>
<line x1="16" y1="561.5" x2="494" y2="561.5" stroke="#999999" stroke-width="1"/>
<line x1="496" y1="561.5" x2="583" y2="561.5" stroke="#8ea3b5" stroke-width="1" stroke-opacity="0.55"/>
<line x1="16" y1="583.5" x2="494" y2="583.5" stroke="#999999" stroke-width="1"/>
<line x1="496" y1="583.5" x2="583" y2="583.5" stroke="#8ea3b5" stroke-width="1" stroke-opacity="0.55"/>
<line x1="16" y1="605.5" x2="494" y2="605.5" stroke="#999999" stroke-width="1"/>
<line x1="496" y1="605.5" x2="583" y2="605.5" stroke="#8ea3b5" stroke-width="1" stroke-opacity="0.55"/>
<line x1="16" y1="627.5" x2="494" y2="627.5" stroke="#999999" stroke-width="1"/>
<line x1="496" y1="627.5" x2="583" y2="627.5" stroke="#8ea3b5" stroke-width="1" stroke-opacity="0.55"/>
<line x1="16" y1="649.5" x2="494" y2="649.5" stroke="#999999" stroke-width="1"/>
<line x1="496" y1="649.5" x2="583" y2="649.5" stroke="#8ea3b5" stroke-width="1" stroke-opacity="0.55"/>
<line x1="16" y1="671.5" x2="494" y2="671.5" stroke="#999999" stroke-width="1"/>
<line x1="496" y1="671.5" x2="583" y2="671.5" stroke="#8ea3b5" stroke-width="1" stroke-opacity="0.55"/>
<line x1="16" y1="693.5" x2="494" y2="693.5" stroke="#999999" stroke-width="1"/>
<line x1="496" y1="693.5" x2="583" y2="693.5" stroke="#8ea3b5" stroke-width="1" stroke-opacity="0.55"/>
<line x1="16" y1="715.5" x2="494" y2="715.5" stroke="#999999" stroke-width="1"/>
<line x1="496" y1="715.5" x2="583" y2="715.5" stroke="#8ea3b5" stroke-width="1" stroke-opacity="0.55"/>
<line x1="16" y1="737.5" x2="494" y2="737.5" stroke="#999999" stroke-width="1"/>
<line x1="496" y1="737.5" x2="583" y2="737.5" stroke="#8ea3b5" stroke-width="1" stroke-opacity="0.55"/>
<line x1="16" y1="759.5" x2="494" y2="759.5" stroke="#999999" stroke-width="1"/>
<line x1="496" y1="759.5" x2="583" y2="759.5" stroke="#8ea3b5" stroke-width="1" stroke-opacity="0.55"/>
<line x1="16" y1="781.5" x2="494" y2="781.5" stroke="#999999" stroke-width="1"/>
<line x1="496" y1="781.5" x2="583" y2="781.5" stroke="#8ea3b5" stroke-width="1" stroke-opacity="0.55"/>
<line x1="16" y1="803.5" x2="494" y2="803.5" stroke="#999999" stroke-width="1"/>
<line x1="496" y1="803.5" x2="583" y2="803.5" stroke="#8ea3b5" stroke-width="1" stroke-opacity="0.55"/>
<line x1="16" y1="825.5" x2="494" y2="825.5" stroke="#999999" stroke-width="1"/>
<line x1="496" y1="825.5" x2="583" y2="825.5" stroke="#8ea3b5" stroke-width="1" stroke-opacity="0.55"/>
<line x1="16" y1="847.5" x2="494" y2="847.5" stroke="#999999" stroke-width="1"/>
<line x1="496" y1="847.5" x2="583" y2="847.5" stroke="#8ea3b5" stroke-width="1" stroke-opacity="0.55"/>
<line x1="16.5" y1="209" x2="16.5" y2="847.5" stroke="#999999" stroke-width="1"/>
<line x1="214.5" y1="209" x2="214.5" y2="847.5" stroke="#999999" stroke-width="1"/>
<line x1="340.5" y1="209" x2="340.5" y2="847.5" stroke="#999999" stroke-width="1"/>
<line x1="362.5" y1="209" x2="362.5" y2="847.5" stroke="#999999" stroke-width="1"/>
<line x1="384.5" y1="209" x2="384.5" y2="847.5" stroke="#999999" stroke-width="1"/>
<line x1="406.5" y1="209" x2="406.5" y2="847.5" stroke="#999999" stroke-width="1"/>
<line x1="428.5" y1="209" x2="428.5" y2="847.5" stroke="#999999" stroke-width="1"/>
<line x1="450.5" y1="209" x2="450.5" y2="847.5" stroke="#999999" stroke-width="1"/>
<line x1="472.5" y1="209" x2="472.5" y2="847.5" stroke="#999999" stroke-width="1"/>
<line x1="494.5" y1="209" x2="494.5" y2="847.5" stroke="#999999" stroke-width="1"/>
<line x1="516.5" y1="209" x2="516.5" y2="847.5" stroke="#8ea3b5" stroke-width="1" stroke-opacity="0.55"/>
<line x1="538.5" y1="209" x2="538.5" y2="847.5" stroke="#8ea3b5" stroke-width="1" stroke-opacity="0.55"/>
<line x1="560.5" y1="209" x2="560.5" y2="847.5" stroke="#8ea3b5" stroke-width="1" stroke-opacity="0.55"/>
<line x1="582.2" y1="209" x2="582.2" y2="847.5" stroke="#8ea3b5" stroke-width="1" stroke-opacity="0.55"/>
<rect x="16" y="165.5" width="567" height="44.0" fill="#1f3c50"/>
<rect x="340.5" y="187.5" width="22.0" height="22.0" fill="#555f12"/>
<rect x="384.5" y="187.5" width="22.0" height="22.0" fill="#555f12"/>
<rect x="428.5" y="187.5" width="22.0" height="22.0" fill="#555f12"/>
<rect x="472.5" y="187.5" width="22.0" height="22.0" fill="#555f12"/>
<rect x="516.5" y="187.5" width="22.0" height="22.0" fill="#555f12"/>
<rect x="560.5" y="187.5" width="22.0" height="22.0" fill="#555f12"/>
<line x1="214.5" y1="165.5" x2="214.5" y2="209.5" stroke="#6f8797" stroke-width="1"/>
<line x1="340.5" y1="165.5" x2="340.5" y2="209.5" stroke="#6f8797" stroke-width="1"/>
<line x1="340" y1="187.5" x2="583" y2="187.5" stroke="#6f8797" stroke-width="1"/>
<line x1="362.5" y1="187.5" x2="362.5" y2="209.5" stroke="#6f8797" stroke-width="1"/>
<line x1="384.5" y1="187.5" x2="384.5" y2="209.5" stroke="#6f8797" stroke-width="1"/>
<line x1="406.5" y1="187.5" x2="406.5" y2="209.5" stroke="#6f8797" stroke-width="1"/>
<line x1="428.5" y1="187.5" x2="428.5" y2="209.5" stroke="#6f8797" stroke-width="1"/>
<line x1="450.5" y1="187.5" x2="450.5" y2="209.5" stroke="#6f8797" stroke-width="1"/>
<line x1="472.5" y1="187.5" x2="472.5" y2="209.5" stroke="#6f8797" stroke-width="1"/>
<line x1="516.5" y1="187.5" x2="516.5" y2="209.5" stroke="#6f8797" stroke-width="1"/>
<line x1="538.5" y1="187.5" x2="538.5" y2="209.5" stroke="#6f8797" stroke-width="1"/>
<line x1="560.5" y1="187.5" x2="560.5" y2="209.5" stroke="#6f8797" stroke-width="1"/>
<rect x="493.3" y="209.5" width="2.3" height="638.0" fill="#8e9aa3"/>
<line x1="493.2" y1="165.5" x2="493.2" y2="209.5" stroke="#6f8797" stroke-width="1"/>
<line x1="495.4" y1="165.5" x2="495.4" y2="209.5" stroke="#6f8797" stroke-width="1"/>
<text x="76.00" y="191.00" font-size="11.5" fill="#fff" stroke="#fff" stroke-width="0.45" textLength="78.60" lengthAdjust="spacingAndGlyphs">STUDENT NAME</text>
<text x="249.20" y="191.00" font-size="11.5" fill="#fff" stroke="#fff" stroke-width="0.45" textLength="56.50" lengthAdjust="spacingAndGlyphs">STUDENT ID</text>
<text x="382.30" y="180.20" font-size="11.5" fill="#fff" stroke="#fff" stroke-width="0.45" textLength="70.80" lengthAdjust="spacingAndGlyphs">DAY OF WEEK</text>
<text x="522.80" y="180.20" font-size="11.5" fill="#fff" stroke="#fff" stroke-width="0.45" textLength="31.70" lengthAdjust="spacingAndGlyphs">TOTAL</text>
<text x="347.20" y="203.10" font-size="11.5" fill="#fff" stroke="#fff" stroke-width="0.45" textLength="9.60" lengthAdjust="spacingAndGlyphs">M</text>
<text x="370.90" y="203.10" font-size="11.5" fill="#fff" stroke="#fff" stroke-width="0.45" textLength="6.20" lengthAdjust="spacingAndGlyphs">T</text>
<text x="391.20" y="203.10" font-size="11.5" fill="#fff" stroke="#fff" stroke-width="0.45" textLength="9.30" lengthAdjust="spacingAndGlyphs">W</text>
<text x="415.70" y="203.10" font-size="11.5" fill="#fff" stroke="#fff" stroke-width="0.45" textLength="5.60" lengthAdjust="spacingAndGlyphs">R</text>
<text x="437.20" y="203.10" font-size="11.5" fill="#fff" stroke="#fff" stroke-width="0.45" textLength="5.40" lengthAdjust="spacingAndGlyphs">F</text>
<text x="456.40" y="203.10" font-size="11.5" fill="#fff" stroke="#fff" stroke-width="0.45" textLength="12.43" lengthAdjust="spacingAndGlyphs">Sa</text>
<text x="477.70" y="203.10" font-size="11.5" fill="#fff" stroke="#fff" stroke-width="0.45" textLength="12.50" lengthAdjust="spacingAndGlyphs">Su</text>
<text x="503.50" y="203.10" font-size="11.5" fill="#fff" stroke="#fff" stroke-width="0.45" textLength="5.80" lengthAdjust="spacingAndGlyphs">P</text>
<text x="523.70" y="203.10" font-size="11.5" fill="#fff" stroke="#fff" stroke-width="0.45" textLength="7.10" lengthAdjust="spacingAndGlyphs">U</text>
<text x="547.20" y="203.10" font-size="11.5" fill="#fff" stroke="#fff" stroke-width="0.45" textLength="5.40" lengthAdjust="spacingAndGlyphs">E</text>
<text x="569.00" y="203.10" font-size="11.5" fill="#fff" stroke="#fff" stroke-width="0.45" textLength="6.40" lengthAdjust="spacingAndGlyphs">T</text>
<text x="502.00" y="224.80" font-size="11.5" fill="#fff" stroke="#fff" stroke-width="0.4" textLength="6.30" lengthAdjust="spacingAndGlyphs">0</text>
<text x="524.00" y="224.80" font-size="11.5" fill="#fff" stroke="#fff" stroke-width="0.4" textLength="6.30" lengthAdjust="spacingAndGlyphs">0</text>
<text x="546.00" y="224.80" font-size="11.5" fill="#fff" stroke="#fff" stroke-width="0.4" textLength="6.30" lengthAdjust="spacingAndGlyphs">0</text>
<text x="568.00" y="224.80" font-size="11.5" fill="#fff" stroke="#fff" stroke-width="0.4" textLength="6.30" lengthAdjust="spacingAndGlyphs">0</text>
<text x="502.00" y="246.80" font-size="11.5" fill="#fff" stroke="#fff" stroke-width="0.4" textLength="6.30" lengthAdjust="spacingAndGlyphs">0</text>
<text x="524.00" y="246.80" font-size="11.5" fill="#fff" stroke="#fff" stroke-width="0.4" textLength="6.30" lengthAdjust="spacingAndGlyphs">0</text>
<text x="546.00" y="246.80" font-size="11.5" fill="#fff" stroke="#fff" stroke-width="0.4" textLength="6.30" lengthAdjust="spacingAndGlyphs">0</text>
<text x="568.00" y="246.80" font-size="11.5" fill="#fff" stroke="#fff" stroke-width="0.4" textLength="6.30" lengthAdjust="spacingAndGlyphs">0</text>
<text x="502.00" y="268.80" font-size="11.5" fill="#fff" stroke="#fff" stroke-width="0.4" textLength="6.30" lengthAdjust="spacingAndGlyphs">0</text>
<text x="524.00" y="268.80" font-size="11.5" fill="#fff" stroke="#fff" stroke-width="0.4" textLength="6.30" lengthAdjust="spacingAndGlyphs">0</text>
<text x="546.00" y="268.80" font-size="11.5" fill="#fff" stroke="#fff" stroke-width="0.4" textLength="6.30" lengthAdjust="spacingAndGlyphs">0</text>
<text x="568.00" y="268.80" font-size="11.5" fill="#fff" stroke="#fff" stroke-width="0.4" textLength="6.30" lengthAdjust="spacingAndGlyphs">0</text>
<text x="502.00" y="290.80" font-size="11.5" fill="#fff" stroke="#fff" stroke-width="0.4" textLength="6.30" lengthAdjust="spacingAndGlyphs">0</text>
<text x="524.00" y="290.80" font-size="11.5" fill="#fff" stroke="#fff" stroke-width="0.4" textLength="6.30" lengthAdjust="spacingAndGlyphs">0</text>
<text x="546.00" y="290.80" font-size="11.5" fill="#fff" stroke="#fff" stroke-width="0.4" textLength="6.30" lengthAdjust="spacingAndGlyphs">0</text>
<text x="568.00" y="290.80" font-size="11.5" fill="#fff" stroke="#fff" stroke-width="0.4" textLength="6.30" lengthAdjust="spacingAndGlyphs">0</text>
<text x="502.00" y="312.80" font-size="11.5" fill="#fff" stroke="#fff" stroke-width="0.4" textLength="6.30" lengthAdjust="spacingAndGlyphs">0</text>
<text x="524.00" y="312.80" font-size="11.5" fill="#fff" stroke="#fff" stroke-width="0.4" textLength="6.30" lengthAdjust="spacingAndGlyphs">0</text>
<text x="546.00" y="312.80" font-size="11.5" fill="#fff" stroke="#fff" stroke-width="0.4" textLength="6.30" lengthAdjust="spacingAndGlyphs">0</text>
<text x="568.00" y="312.80" font-size="11.5" fill="#fff" stroke="#fff" stroke-width="0.4" textLength="6.30" lengthAdjust="spacingAndGlyphs">0</text>
<text x="502.00" y="334.80" font-size="11.5" fill="#fff" stroke="#fff" stroke-width="0.4" textLength="6.30" lengthAdjust="spacingAndGlyphs">0</text>
<text x="524.00" y="334.80" font-size="11.5" fill="#fff" stroke="#fff" stroke-width="0.4" textLength="6.30" lengthAdjust="spacingAndGlyphs">0</text>
<text x="546.00" y="334.80" font-size="11.5" fill="#fff" stroke="#fff" stroke-width="0.4" textLength="6.30" lengthAdjust="spacingAndGlyphs">0</text>
<text x="568.00" y="334.80" font-size="11.5" fill="#fff" stroke="#fff" stroke-width="0.4" textLength="6.30" lengthAdjust="spacingAndGlyphs">0</text>
<text x="502.00" y="356.80" font-size="11.5" fill="#fff" stroke="#fff" stroke-width="0.4" textLength="6.30" lengthAdjust="spacingAndGlyphs">0</text>
<text x="524.00" y="356.80" font-size="11.5" fill="#fff" stroke="#fff" stroke-width="0.4" textLength="6.30" lengthAdjust="spacingAndGlyphs">0</text>
<text x="546.00" y="356.80" font-size="11.5" fill="#fff" stroke="#fff" stroke-width="0.4" textLength="6.30" lengthAdjust="spacingAndGlyphs">0</text>
<text x="568.00" y="356.80" font-size="11.5" fill="#fff" stroke="#fff" stroke-width="0.4" textLength="6.30" lengthAdjust="spacingAndGlyphs">0</text>
<text x="502.00" y="378.80" font-size="11.5" fill="#fff" stroke="#fff" stroke-width="0.4" textLength="6.30" lengthAdjust="spacingAndGlyphs">0</text>
<text x="524.00" y="378.80" font-size="11.5" fill="#fff" stroke="#fff" stroke-width="0.4" textLength="6.30" lengthAdjust="spacingAndGlyphs">0</text>
<text x="546.00" y="378.80" font-size="11.5" fill="#fff" stroke="#fff" stroke-width="0.4" textLength="6.30" lengthAdjust="spacingAndGlyphs">0</text>
<text x="568.00" y="378.80" font-size="11.5" fill="#fff" stroke="#fff" stroke-width="0.4" textLength="6.30" lengthAdjust="spacingAndGlyphs">0</text>
<text x="502.00" y="400.80" font-size="11.5" fill="#fff" stroke="#fff" stroke-width="0.4" textLength="6.30" lengthAdjust="spacingAndGlyphs">0</text>
<text x="524.00" y="400.80" font-size="11.5" fill="#fff" stroke="#fff" stroke-width="0.4" textLength="6.30" lengthAdjust="spacingAndGlyphs">0</text>
<text x="546.00" y="400.80" font-size="11.5" fill="#fff" stroke="#fff" stroke-width="0.4" textLength="6.30" lengthAdjust="spacingAndGlyphs">0</text>
<text x="568.00" y="400.80" font-size="11.5" fill="#fff" stroke="#fff" stroke-width="0.4" textLength="6.30" lengthAdjust="spacingAndGlyphs">0</text>
<text x="502.00" y="422.80" font-size="11.5" fill="#fff" stroke="#fff" stroke-width="0.4" textLength="6.30" lengthAdjust="spacingAndGlyphs">0</text>
<text x="524.00" y="422.80" font-size="11.5" fill="#fff" stroke="#fff" stroke-width="0.4" textLength="6.30" lengthAdjust="spacingAndGlyphs">0</text>
<text x="546.00" y="422.80" font-size="11.5" fill="#fff" stroke="#fff" stroke-width="0.4" textLength="6.30" lengthAdjust="spacingAndGlyphs">0</text>
<text x="568.00" y="422.80" font-size="11.5" fill="#fff" stroke="#fff" stroke-width="0.4" textLength="6.30" lengthAdjust="spacingAndGlyphs">0</text>
<text x="502.00" y="444.80" font-size="11.5" fill="#fff" stroke="#fff" stroke-width="0.4" textLength="6.30" lengthAdjust="spacingAndGlyphs">0</text>
<text x="524.00" y="444.80" font-size="11.5" fill="#fff" stroke="#fff" stroke-width="0.4" textLength="6.30" lengthAdjust="spacingAndGlyphs">0</text>
<text x="546.00" y="444.80" font-size="11.5" fill="#fff" stroke="#fff" stroke-width="0.4" textLength="6.30" lengthAdjust="spacingAndGlyphs">0</text>
<text x="568.00" y="444.80" font-size="11.5" fill="#fff" stroke="#fff" stroke-width="0.4" textLength="6.30" lengthAdjust="spacingAndGlyphs">0</text>
<text x="502.00" y="466.80" font-size="11.5" fill="#fff" stroke="#fff" stroke-width="0.4" textLength="6.30" lengthAdjust="spacingAndGlyphs">0</text>
<text x="524.00" y="466.80" font-size="11.5" fill="#fff" stroke="#fff" stroke-width="0.4" textLength="6.30" lengthAdjust="spacingAndGlyphs">0</text>
<text x="546.00" y="466.80" font-size="11.5" fill="#fff" stroke="#fff" stroke-width="0.4" textLength="6.30" lengthAdjust="spacingAndGlyphs">0</text>
<text x="568.00" y="466.80" font-size="11.5" fill="#fff" stroke="#fff" stroke-width="0.4" textLength="6.30" lengthAdjust="spacingAndGlyphs">0</text>
<text x="502.00" y="488.80" font-size="11.5" fill="#fff" stroke="#fff" stroke-width="0.4" textLength="6.30" lengthAdjust="spacingAndGlyphs">0</text>
<text x="524.00" y="488.80" font-size="11.5" fill="#fff" stroke="#fff" stroke-width="0.4" textLength="6.30" lengthAdjust="spacingAndGlyphs">0</text>
<text x="546.00" y="488.80" font-size="11.5" fill="#fff" stroke="#fff" stroke-width="0.4" textLength="6.30" lengthAdjust="spacingAndGlyphs">0</text>
<text x="568.00" y="488.80" font-size="11.5" fill="#fff" stroke="#fff" stroke-width="0.4" textLength="6.30" lengthAdjust="spacingAndGlyphs">0</text>
<text x="502.00" y="510.80" font-size="11.5" fill="#fff" stroke="#fff" stroke-width="0.4" textLength="6.30" lengthAdjust="spacingAndGlyphs">0</text>
<text x="524.00" y="510.80" font-size="11.5" fill="#fff" stroke="#fff" stroke-width="0.4" textLength="6.30" lengthAdjust="spacingAndGlyphs">0</text>
<text x="546.00" y="510.80" font-size="11.5" fill="#fff" stroke="#fff" stroke-width="0.4" textLength="6.30" lengthAdjust="spacingAndGlyphs">0</text>
<text x="568.00" y="510.80" font-size="11.5" fill="#fff" stroke="#fff" stroke-width="0.4" textLength="6.30" lengthAdjust="spacingAndGlyphs">0</text>
<text x="502.00" y="532.80" font-size="11.5" fill="#fff" stroke="#fff" stroke-width="0.4" textLength="6.30" lengthAdjust="spacingAndGlyphs">0</text>
<text x="524.00" y="532.80" font-size="11.5" fill="#fff" stroke="#fff" stroke-width="0.4" textLength="6.30" lengthAdjust="spacingAndGlyphs">0</text>
<text x="546.00" y="532.80" font-size="11.5" fill="#fff" stroke="#fff" stroke-width="0.4" textLength="6.30" lengthAdjust="spacingAndGlyphs">0</text>
<text x="568.00" y="532.80" font-size="11.5" fill="#fff" stroke="#fff" stroke-width="0.4" textLength="6.30" lengthAdjust="spacingAndGlyphs">0</text>
<text x="502.00" y="554.80" font-size="11.5" fill="#fff" stroke="#fff" stroke-width="0.4" textLength="6.30" lengthAdjust="spacingAndGlyphs">0</text>
<text x="524.00" y="554.80" font-size="11.5" fill="#fff" stroke="#fff" stroke-width="0.4" textLength="6.30" lengthAdjust="spacingAndGlyphs">0</text>
<text x="546.00" y="554.80" font-size="11.5" fill="#fff" stroke="#fff" stroke-width="0.4" textLength="6.30" lengthAdjust="spacingAndGlyphs">0</text>
<text x="568.00" y="554.80" font-size="11.5" fill="#fff" stroke="#fff" stroke-width="0.4" textLength="6.30" lengthAdjust="spacingAndGlyphs">0</text>
<text x="502.00" y="576.80" font-size="11.5" fill="#fff" stroke="#fff" stroke-width="0.4" textLength="6.30" lengthAdjust="spacingAndGlyphs">0</text>
<text x="524.00" y="576.80" font-size="11.5" fill="#fff" stroke="#fff" stroke-width="0.4" textLength="6.30" lengthAdjust="spacingAndGlyphs">0</text>
<text x="546.00" y="576.80" font-size="11.5" fill="#fff" stroke="#fff" stroke-width="0.4" textLength="6.30" lengthAdjust="spacingAndGlyphs">0</text>
<text x="568.00" y="576.80" font-size="11.5" fill="#fff" stroke="#fff" stroke-width="0.4" textLength="6.30" lengthAdjust="spacingAndGlyphs">0</text>
<text x="502.00" y="598.80" font-size="11.5" fill="#fff" stroke="#fff" stroke-width="0.4" textLength="6.30" lengthAdjust="spacingAndGlyphs">0</text>
<text x="524.00" y="598.80" font-size="11.5" fill="#fff" stroke="#fff" stroke-width="0.4" textLength="6.30" lengthAdjust="spacingAndGlyphs">0</text>
<text x="546.00" y="598.80" font-size="11.5" fill="#fff" stroke="#fff" stroke-width="0.4" textLength="6.30" lengthAdjust="spacingAndGlyphs">0</text>
<text x="568.00" y="598.80" font-size="11.5" fill="#fff" stroke="#fff" stroke-width="0.4" textLength="6.30" lengthAdjust="spacingAndGlyphs">0</text>
<text x="502.00" y="620.80" font-size="11.5" fill="#fff" stroke="#fff" stroke-width="0.4" textLength="6.30" lengthAdjust="spacingAndGlyphs">0</text>
<text x="524.00" y="620.80" font-size="11.5" fill="#fff" stroke="#fff" stroke-width="0.4" textLength="6.30" lengthAdjust="spacingAndGlyphs">0</text>
<text x="546.00" y="620.80" font-size="11.5" fill="#fff" stroke="#fff" stroke-width="0.4" textLength="6.30" lengthAdjust="spacingAndGlyphs">0</text>
<text x="568.00" y="620.80" font-size="11.5" fill="#fff" stroke="#fff" stroke-width="0.4" textLength="6.30" lengthAdjust="spacingAndGlyphs">0</text>
<text x="502.00" y="642.80" font-size="11.5" fill="#fff" stroke="#fff" stroke-width="0.4" textLength="6.30" lengthAdjust="spacingAndGlyphs">0</text>
<text x="524.00" y="642.80" font-size="11.5" fill="#fff" stroke="#fff" stroke-width="0.4" textLength="6.30" lengthAdjust="spacingAndGlyphs">0</text>
<text x="546.00" y="642.80" font-size="11.5" fill="#fff" stroke="#fff" stroke-width="0.4" textLength="6.30" lengthAdjust="spacingAndGlyphs">0</text>
<text x="568.00" y="642.80" font-size="11.5" fill="#fff" stroke="#fff" stroke-width="0.4" textLength="6.30" lengthAdjust="spacingAndGlyphs">0</text>
<text x="502.00" y="664.80" font-size="11.5" fill="#fff" stroke="#fff" stroke-width="0.4" textLength="6.30" lengthAdjust="spacingAndGlyphs">0</text>
<text x="524.00" y="664.80" font-size="11.5" fill="#fff" stroke="#fff" stroke-width="0.4" textLength="6.30" lengthAdjust="spacingAndGlyphs">0</text>
<text x="546.00" y="664.80" font-size="11.5" fill="#fff" stroke="#fff" stroke-width="0.4" textLength="6.30" lengthAdjust="spacingAndGlyphs">0</text>
<text x="568.00" y="664.80" font-size="11.5" fill="#fff" stroke="#fff" stroke-width="0.4" textLength="6.30" lengthAdjust="spacingAndGlyphs">0</text>
<text x="502.00" y="686.80" font-size="11.5" fill="#fff" stroke="#fff" stroke-width="0.4" textLength="6.30" lengthAdjust="spacingAndGlyphs">0</text>
<text x="524.00" y="686.80" font-size="11.5" fill="#fff" stroke="#fff" stroke-width="0.4" textLength="6.30" lengthAdjust="spacingAndGlyphs">0</text>
<text x="546.00" y="686.80" font-size="11.5" fill="#fff" stroke="#fff" stroke-width="0.4" textLength="6.30" lengthAdjust="spacingAndGlyphs">0</text>
<text x="568.00" y="686.80" font-size="11.5" fill="#fff" stroke="#fff" stroke-width="0.4" textLength="6.30" lengthAdjust="spacingAndGlyphs">0</text>
<text x="502.00" y="708.80" font-size="11.5" fill="#fff" stroke="#fff" stroke-width="0.4" textLength="6.30" lengthAdjust="spacingAndGlyphs">0</text>
<text x="524.00" y="708.80" font-size="11.5" fill="#fff" stroke="#fff" stroke-width="0.4" textLength="6.30" lengthAdjust="spacingAndGlyphs">0</text>
<text x="546.00" y="708.80" font-size="11.5" fill="#fff" stroke="#fff" stroke-width="0.4" textLength="6.30" lengthAdjust="spacingAndGlyphs">0</text>
<text x="568.00" y="708.80" font-size="11.5" fill="#fff" stroke="#fff" stroke-width="0.4" textLength="6.30" lengthAdjust="spacingAndGlyphs">0</text>
<text x="502.00" y="730.80" font-size="11.5" fill="#fff" stroke="#fff" stroke-width="0.4" textLength="6.30" lengthAdjust="spacingAndGlyphs">0</text>
<text x="524.00" y="730.80" font-size="11.5" fill="#fff" stroke="#fff" stroke-width="0.4" textLength="6.30" lengthAdjust="spacingAndGlyphs">0</text>
<text x="546.00" y="730.80" font-size="11.5" fill="#fff" stroke="#fff" stroke-width="0.4" textLength="6.30" lengthAdjust="spacingAndGlyphs">0</text>
<text x="568.00" y="730.80" font-size="11.5" fill="#fff" stroke="#fff" stroke-width="0.4" textLength="6.30" lengthAdjust="spacingAndGlyphs">0</text>
<text x="502.00" y="752.80" font-size="11.5" fill="#fff" stroke="#fff" stroke-width="0.4" textLength="6.30" lengthAdjust="spacingAndGlyphs">0</text>
<text x="524.00" y="752.80" font-size="11.5" fill="#fff" stroke="#fff" stroke-width="0.4" textLength="6.30" lengthAdjust="spacingAndGlyphs">0</text>
<text x="546.00" y="752.80" font-size="11.5" fill="#fff" stroke="#fff" stroke-width="0.4" textLength="6.30" lengthAdjust="spacingAndGlyphs">0</text>
<text x="568.00" y="752.80" font-size="11.5" fill="#fff" stroke="#fff" stroke-width="0.4" textLength="6.30" lengthAdjust="spacingAndGlyphs">0</text>
<text x="502.00" y="774.80" font-size="11.5" fill="#fff" stroke="#fff" stroke-width="0.4" textLength="6.30" lengthAdjust="spacingAndGlyphs">0</text>
<text x="524.00" y="774.80" font-size="11.5" fill="#fff" stroke="#fff" stroke-width="0.4" textLength="6.30" lengthAdjust="spacingAndGlyphs">0</text>
<text x="546.00" y="774.80" font-size="11.5" fill="#fff" stroke="#fff" stroke-width="0.4" textLength="6.30" lengthAdjust="spacingAndGlyphs">0</text>
<text x="568.00" y="774.80" font-size="11.5" fill="#fff" stroke="#fff" stroke-width="0.4" textLength="6.30" lengthAdjust="spacingAndGlyphs">0</text>
<text x="502.00" y="796.80" font-size="11.5" fill="#fff" stroke="#fff" stroke-width="0.4" textLength="6.30" lengthAdjust="spacingAndGlyphs">0</text>
<text x="524.00" y="796.80" font-size="11.5" fill="#fff" stroke="#fff" stroke-width="0.4" textLength="6.30" lengthAdjust="spacingAndGlyphs">0</text>
<text x="546.00" y="796.80" font-size="11.5" fill="#fff" stroke="#fff" stroke-width="0.4" textLength="6.30" lengthAdjust="spacingAndGlyphs">0</text>
<text x="568.00" y="796.80" font-size="11.5" fill="#fff" stroke="#fff" stroke-width="0.4" textLength="6.30" lengthAdjust="spacingAndGlyphs">0</text>
<text x="502.00" y="818.80" font-size="11.5" fill="#fff" stroke="#fff" stroke-width="0.4" textLength="6.30" lengthAdjust="spacingAndGlyphs">0</text>
<text x="524.00" y="818.80" font-size="11.5" fill="#fff" stroke="#fff" stroke-width="0.4" textLength="6.30" lengthAdjust="spacingAndGlyphs">0</text>
<text x="546.00" y="818.80" font-size="11.5" fill="#fff" stroke="#fff" stroke-width="0.4" textLength="6.30" lengthAdjust="spacingAndGlyphs">0</text>
<text x="568.00" y="818.80" font-size="11.5" fill="#fff" stroke="#fff" stroke-width="0.4" textLength="6.30" lengthAdjust="spacingAndGlyphs">0</text>
<text x="502.00" y="840.80" font-size="11.5" fill="#fff" stroke="#fff" stroke-width="0.4" textLength="6.30" lengthAdjust="spacingAndGlyphs">0</text>
<text x="524.00" y="840.80" font-size="11.5" fill="#fff" stroke="#fff" stroke-width="0.4" textLength="6.30" lengthAdjust="spacingAndGlyphs">0</text>
<text x="546.00" y="840.80" font-size="11.5" fill="#fff" stroke="#fff" stroke-width="0.4" textLength="6.30" lengthAdjust="spacingAndGlyphs">0</text>
<text x="568.00" y="840.80" font-size="11.5" fill="#fff" stroke="#fff" stroke-width="0.4" textLength="6.30" lengthAdjust="spacingAndGlyphs">0</text>
</g>
</svg>
</body>
</html>
